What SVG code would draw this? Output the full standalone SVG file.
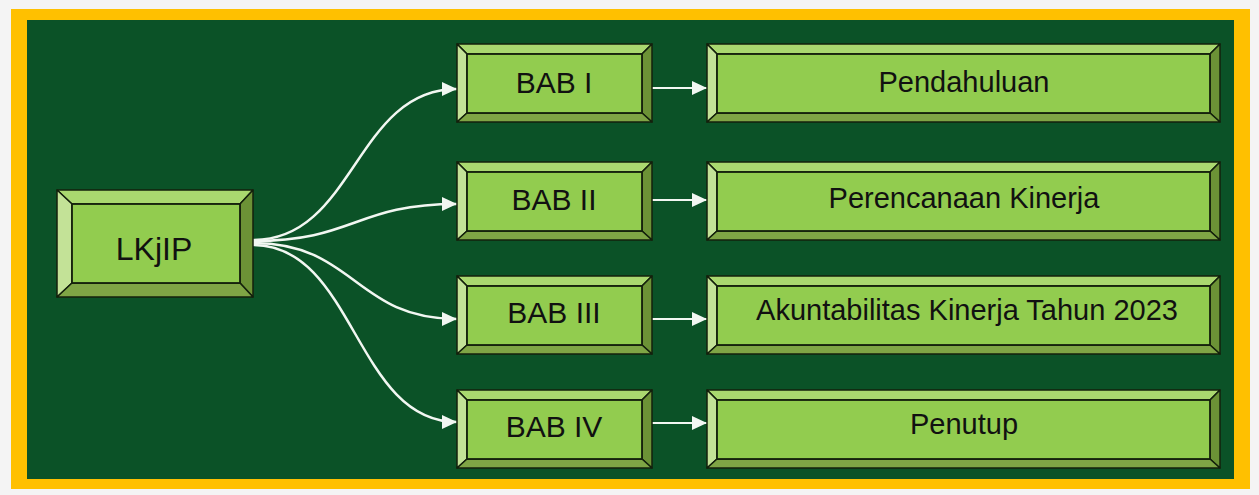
<svg xmlns="http://www.w3.org/2000/svg" width="1259" height="495" viewBox="0 0 1259 495">
<style>
.bt{fill:#aad86f;stroke:#14200c;stroke-width:1.5;stroke-linejoin:round}
.bl{fill:#c3e297;stroke:#14200c;stroke-width:1.5;stroke-linejoin:round}
.br{fill:#6c9236;stroke:#14200c;stroke-width:1.5;stroke-linejoin:round}
.bb{fill:#7fa545;stroke:#14200c;stroke-width:1.5;stroke-linejoin:round}
.face{fill:#92cc4f;stroke:#14200c;stroke-width:1.8}
.lbl{font-family:"Liberation Sans",Arial,sans-serif;fill:#111;text-anchor:middle}
.bab{font-size:30px}
.ttl{font-size:29px}
.big{font-size:32px}
.con{fill:none;stroke:#f2f7f2;stroke-width:2.5}
.st{fill:none;stroke:#f2f7f2;stroke-width:2}
</style>
<defs>
<marker id="ah" markerUnits="userSpaceOnUse" markerWidth="16" markerHeight="16" refX="15" refY="7" orient="auto">
<path d="M0,0 L15,7 L0,14 Z" fill="#f2f7f2"/>
</marker>
</defs>
<rect x="0" y="0" width="1259" height="495" fill="#f4f4f4"/>
<rect x="11" y="9" width="1239" height="480" fill="#ffc000"/>
<rect x="27" y="20" width="1207" height="459" fill="#0b5227"/>

<g id="connectors">
<path class="con" d="M253,240 C355,240 355,89 457,89" marker-end="url(#ah)"/>
<path class="con" d="M253,241 C355,241 355,204 457,204" marker-end="url(#ah)"/>
<path class="con" d="M253,243 C355,243 355,319 457,319" marker-end="url(#ah)"/>
<path class="con" d="M253,245 C355,245 355,422 457,422" marker-end="url(#ah)"/>
<path class="st" d="M652,88 L707,88" marker-end="url(#ah)"/>
<path class="st" d="M652,200 L707,200" marker-end="url(#ah)"/>
<path class="st" d="M652,319 L707,319" marker-end="url(#ah)"/>
<path class="st" d="M652,423 L707,423" marker-end="url(#ah)"/>
</g>

<g id="lkjip">
<polygon class="bt" points="57,190 253,190 240,204 72,204"/>
<polygon class="bl" points="57,190 72,204 72,283 57,297"/>
<polygon class="br" points="253,190 253,297 240,283 240,204"/>
<polygon class="bb" points="57,297 72,283 240,283 253,297"/>
<rect class="face" x="72" y="204" width="168" height="79"/>
<text class="lbl big" x="154" y="260">LKjIP</text>
</g>

<g id="bab1">
<polygon class="bt" points="457,44 652,44 642,54 467,54"/>
<polygon class="bl" points="457,44 467,54 467,113 457,122"/>
<polygon class="br" points="652,44 652,122 642,113 642,54"/>
<polygon class="bb" points="457,122 467,113 642,113 652,122"/>
<rect class="face" x="467" y="54" width="175" height="59"/>
<text class="lbl bab" x="554" y="93">BAB I</text>
</g>

<g id="bab2">
<polygon class="bt" points="457,162 652,162 642,172 467,172"/>
<polygon class="bl" points="457,162 467,172 467,231 457,240"/>
<polygon class="br" points="652,162 652,240 642,231 642,172"/>
<polygon class="bb" points="457,240 467,231 642,231 652,240"/>
<rect class="face" x="467" y="172" width="175" height="59"/>
<text class="lbl bab" x="554" y="210">BAB II</text>
</g>

<g id="bab3">
<polygon class="bt" points="457,276 652,276 642,286 467,286"/>
<polygon class="bl" points="457,276 467,286 467,345 457,354"/>
<polygon class="br" points="652,276 652,354 642,345 642,286"/>
<polygon class="bb" points="457,354 467,345 642,345 652,354"/>
<rect class="face" x="467" y="286" width="175" height="59"/>
<text class="lbl bab" x="554" y="323">BAB III</text>
</g>

<g id="bab4">
<polygon class="bt" points="457,390 652,390 642,400 467,400"/>
<polygon class="bl" points="457,390 467,400 467,459 457,468"/>
<polygon class="br" points="652,390 652,468 642,459 642,400"/>
<polygon class="bb" points="457,468 467,459 642,459 652,468"/>
<rect class="face" x="467" y="400" width="175" height="59"/>
<text class="lbl bab" x="554" y="437">BAB IV</text>
</g>

<g id="pendahuluan">
<polygon class="bt" points="707,44 1220,44 1210,54 717,54"/>
<polygon class="bl" points="707,44 717,54 717,113 707,122"/>
<polygon class="br" points="1220,44 1220,122 1210,113 1210,54"/>
<polygon class="bb" points="707,122 717,113 1210,113 1220,122"/>
<rect class="face" x="717" y="54" width="493" height="59"/>
<text class="lbl ttl" x="964" y="92">Pendahuluan</text>
</g>

<g id="perencanaan">
<polygon class="bt" points="707,162 1220,162 1210,172 717,172"/>
<polygon class="bl" points="707,162 717,172 717,231 707,240"/>
<polygon class="br" points="1220,162 1220,240 1210,231 1210,172"/>
<polygon class="bb" points="707,240 717,231 1210,231 1220,240"/>
<rect class="face" x="717" y="172" width="493" height="59"/>
<text class="lbl ttl" x="964" y="208">Perencanaan Kinerja</text>
</g>

<g id="akuntabilitas">
<polygon class="bt" points="707,276 1220,276 1210,286 717,286"/>
<polygon class="bl" points="707,276 717,286 717,345 707,354"/>
<polygon class="br" points="1220,276 1220,354 1210,345 1210,286"/>
<polygon class="bb" points="707,354 717,345 1210,345 1220,354"/>
<rect class="face" x="717" y="286" width="493" height="59"/>
<text class="lbl ttl" x="967" y="320">Akuntabilitas Kinerja Tahun 2023</text>
</g>

<g id="penutup">
<polygon class="bt" points="707,390 1220,390 1210,400 717,400"/>
<polygon class="bl" points="707,390 717,400 717,459 707,468"/>
<polygon class="br" points="1220,390 1220,468 1210,459 1210,400"/>
<polygon class="bb" points="707,468 717,459 1210,459 1220,468"/>
<rect class="face" x="717" y="400" width="493" height="59"/>
<text class="lbl ttl" x="964" y="434">Penutup</text>
</g>
</svg>
